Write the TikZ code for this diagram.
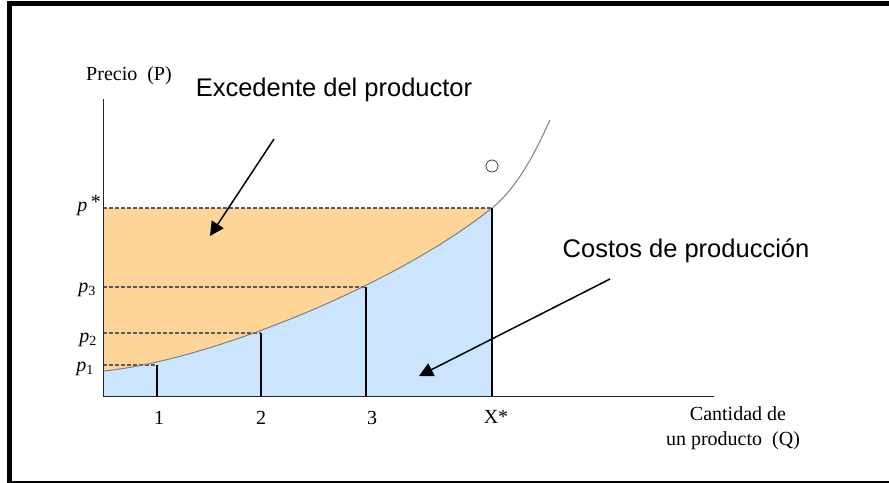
\documentclass[tikz,border=0pt]{standalone}
\usepackage{fontspec}
\setmainfont{Liberation Serif}
\newfontfamily\calloutfont{Liberation Sans}
\usetikzlibrary{arrows.meta}

\definecolor{surplusfill}{RGB}{254,212,152}
\definecolor{costfill}{RGB}{204,229,255}

\begin{document}
\begin{tikzpicture}[x=1pt,y=-1pt,
    serif/.style={font=\fontsize{20}{24}\selectfont,inner sep=0pt},
    callout/.style={font=\calloutfont\fontsize{25.5}{30}\selectfont,inner sep=0pt},
    level/.style={draw=black!65,line width=1.2pt,dash pattern=on 4pt off 2pt},
    bar/.style={line width=2.2pt},
    pointer/.style={line width=1.5pt,-{Triangle[length=14pt,width=14pt]}}
]
\useasboundingbox (0,0) rectangle (889,482);

% Marco
\draw[line width=5pt] (9.5,3.5) rectangle (900,483);

% Puntos de la curva de oferta
\coordinate (o) at (103,396);
\coordinate (c0) at (103,371);
\coordinate (k1) at (203,362);
\coordinate (k2) at (392,288);
\coordinate (c3) at (492,208);

% Rellenos
\fill[costfill] (o) -- (c0) .. controls (k1) and (k2) .. (c3) |- cycle;
\fill[surplusfill] (c0) .. controls (k1) and (k2) .. (c3) -- (103,208) -- cycle;

% Niveles de precio
\draw[level] (103,208) -- (c3);
\draw[level] (103,287) -- (366,287);
\draw[level] (103,333) -- (261,333);
\draw[level] (103,365) -- (157,365);

% Curva
\draw[black!50,line width=1pt] (c0) .. controls (k1) and (k2) .. (c3)
    .. controls (517,188) and (535,153) .. (550,120);

% Cantidades
\draw[bar] (157,365) -- (157,396);
\draw[bar] (261,333) -- (261,396);
\draw[bar] (366,287) -- (366,396);
\draw[bar] (c3) -- (492,396);

% Ejes
\draw[line width=1pt,black!85] (103,99) -- (o) -- (714,396);

% Etiquetas de los ejes
\node[serif,anchor=base] (ylabel) at (129,80) {Precio\ \ (P)};
\node[serif,anchor=base] (xlabel1) at (738,420) {Cantidad de};
\node[serif,anchor=base] (xlabel2) at (733,445) {un producto\ \ (Q)};

\node[serif,anchor=base east] (pstar) at (101,211) {\textit{p}\,\raisebox{3pt}{*}};
\node[serif,anchor=base east] (p3) at (96,292) {\textit{p}\textsubscript{3}};
\node[serif,anchor=base east] (p2) at (97,342) {\textit{p}\textsubscript{2}};
\node[serif,anchor=base east] (p1) at (94,371) {\textit{p}\textsubscript{1}};

\node[serif,anchor=base] (q1) at (159,424) {1};
\node[serif,anchor=base] (q2) at (261,424) {2};
\node[serif,anchor=base] (q3) at (372,424) {3};
\node[serif,anchor=base] (qstar) at (496,423) {X*};

% Oferta
\node[circle,draw=black!75,line width=0.8pt,minimum size=12pt,inner sep=0pt] (offer) at (492,166) {};

% Textos y flechas
\node[callout,anchor=base] (surplus) at (334,96) {Excedente del productor};
\node[callout,anchor=base] (costs) at (686,257) {Costos de producción};

\coordinate (surplusfrom) at (274,139);
\coordinate (surplusto) at (210,236);
\coordinate (costsfrom) at (610,279);
\coordinate (coststo) at (419,376);
\draw[pointer] (surplusfrom) -- (surplusto);
\draw[pointer] (costsfrom) -- (coststo);

\end{tikzpicture}
\end{document}
